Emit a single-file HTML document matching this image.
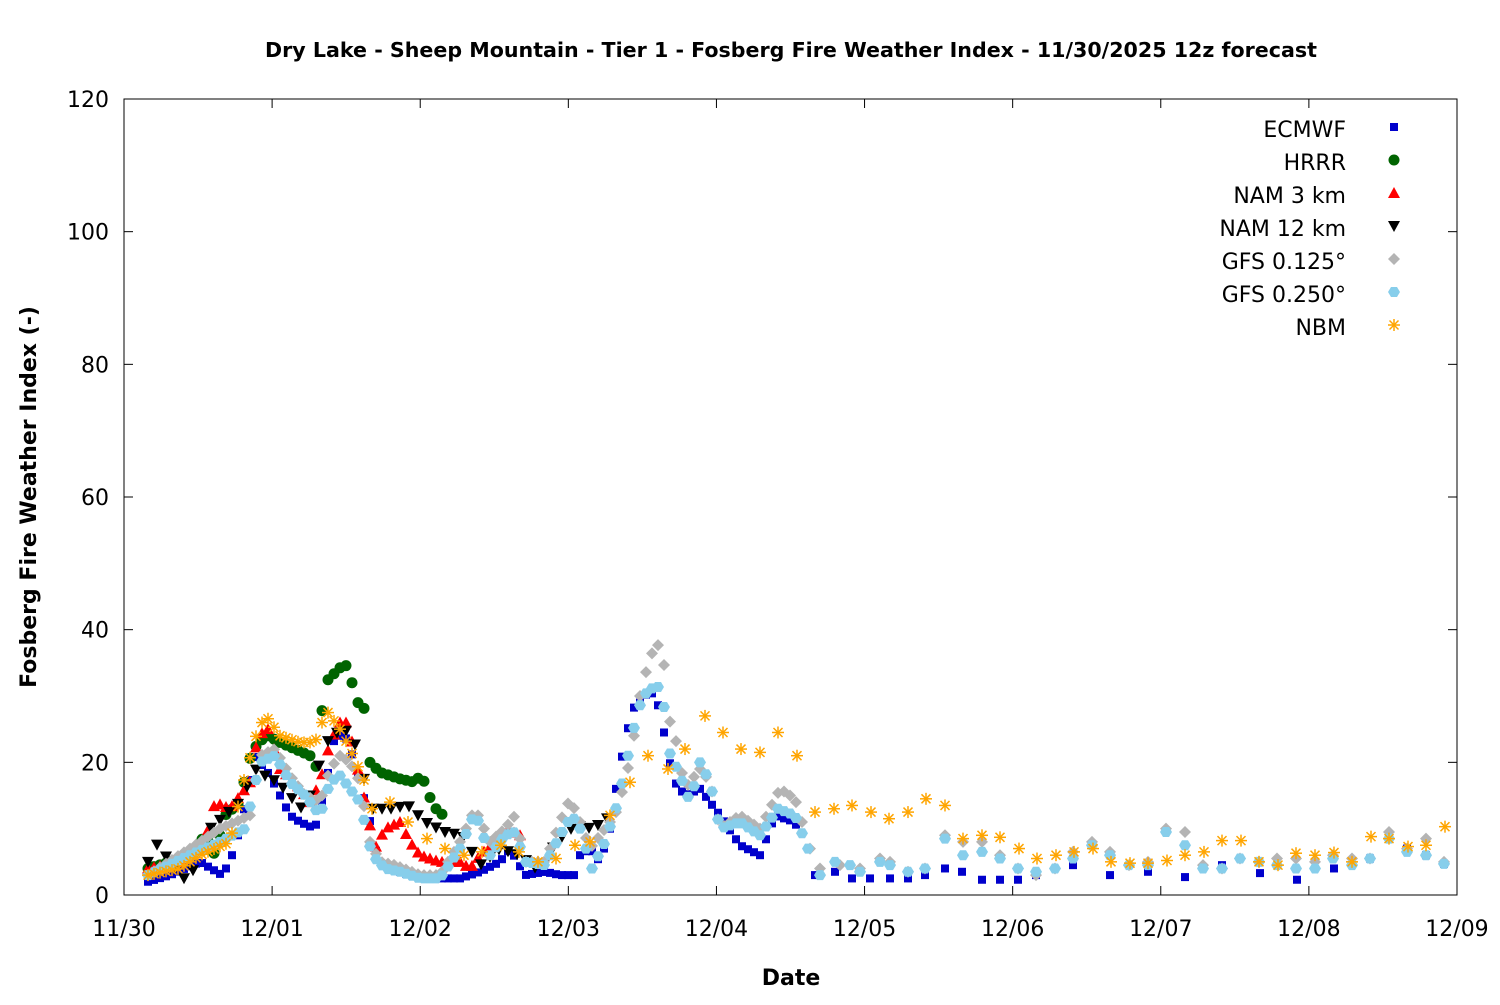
<!DOCTYPE html>
<html><head><meta charset="utf-8"><style>
html,body{margin:0;padding:0;background:#fff;}
svg text{font-family:"DejaVu Sans","Liberation Sans",sans-serif;}
</style></head><body>
<svg id="s" width="1500" height="1000" xmlns="http://www.w3.org/2000/svg">
<rect width="1500" height="1000" fill="#fff"/>
<text x="791" y="57" text-anchor="middle" font-size="20.6" font-weight="bold">Dry Lake - Sheep Mountain - Tier 1 - Fosberg Fire Weather Index - 11/30/2025 12z forecast</text>
<text x="791" y="985" text-anchor="middle" font-size="22" font-weight="bold">Date</text>
<text transform="translate(36,497) rotate(-90)" text-anchor="middle" font-size="22" font-weight="bold">Fosberg Fire Weather Index (-)</text>
<g id="ax"></g>
<g id="pts"></g>
<rect x="124" y="99" width="1333" height="796" fill="none" stroke="#000" stroke-width="1"/>
<g font-size="22" text-anchor="end">
<text x="1346" y="137">ECMWF</text>
<text x="1346" y="170">HRRR</text>
<text x="1346" y="203">NAM 3 km</text>
<text x="1346" y="236">NAM 12 km</text>
<text x="1346" y="269">GFS 0.125°</text>
<text x="1346" y="302">GFS 0.250°</text>
<text x="1346" y="335">NBM</text>
</g>
</svg>
<script>
const NS="http://www.w3.org/2000/svg";
const ax=document.getElementById('ax'),P=document.getElementById('pts');
function el(t,a,p){const e=document.createElementNS(NS,t);for(const k in a)e.setAttribute(k,a[k]);(p||P).appendChild(e);return e;}
const Y=v=>895-v*6.6333;
for(let i=0;i<=6;i++){const y=Y(i*20);
 el('line',{x1:124,x2:133,y1:y,y2:y,stroke:'#000'},ax);el('line',{x1:1448,x2:1457,y1:y,y2:y,stroke:'#000'},ax);
 const t=el('text',{x:109,y:y+8,'text-anchor':'end','font-size':22},ax);t.textContent=i*20;}
const d=['11/30','12/01','12/02','12/03','12/04','12/05','12/06','12/07','12/08','12/09'];
for(let i=0;i<10;i++){const x=124+i*148.11;
 el('line',{x1:x,x2:x,y1:895,y2:886,stroke:'#000'},ax);el('line',{x1:x,x2:x,y1:99,y2:108,stroke:'#000'},ax);
 const t=el('text',{x:x,y:936,'text-anchor':'middle','font-size':22},ax);t.textContent=d[i];}
function mk(type,x,y){
 switch(type){
 case 'sq':el('rect',{x:x-4,y:y-4,width:8,height:8,fill:'#0000cc'});break;
 case 'ci':el('circle',{cx:x,cy:y,r:5.5,fill:'#006400'});break;
 case 'tu':el('polygon',{points:`${x},${y-6} ${x-6},${y+5} ${x+6},${y+5}`,fill:'#ff0000'});break;
 case 'td':el('polygon',{points:`${x},${y+6} ${x-6},${y-5} ${x+6},${y-5}`,fill:'#000'});break;
 case 'di':el('polygon',{points:`${x},${y-6} ${x+6},${y} ${x},${y+6} ${x-6},${y}`,fill:'#b4b4b4'});break;
 case 'hx':el('polygon',{points:`${x-3},${y-5} ${x+3},${y-5} ${x+6},${y} ${x+3},${y+5} ${x-3},${y+5} ${x-6},${y}`,fill:'#87ceeb'});break;
 case 'as':{const g={stroke:'#ffa500','stroke-width':1.5};
  el('line',Object.assign({x1:x-6,x2:x+6,y1:y,y2:y},g));el('line',Object.assign({x1:x,x2:x,y1:y-6,y2:y+6},g));
  el('line',Object.assign({x1:x-4.5,x2:x+4.5,y1:y-4.5,y2:y+4.5},g));el('line',Object.assign({x1:x-4.5,x2:x+4.5,y1:y+4.5,y2:y-4.5},g));}break;}
}
function interp(k,x){for(let i=0;i<k.length-1;i++){if(x>=k[i][0]&&x<=k[i+1][0]){const f=(x-k[i][0])/(k[i+1][0]-k[i][0]||1);return k[i][1]+f*(k[i+1][1]-k[i][1]);}}return k[k.length-1][1];}
function series(type,k,step,dense){
 for(let x=k[0][0];x<=Math.min(dense,k[k.length-1][0]);x+=step)mk(type,x,Y(interp(k,x)));
 for(const p of k)if(p[0]>dense)mk(type,p[0],Y(p[1]));
}
const E=[[148,2],[170,3],[200,5],[222,3],[230,5],[240,10],[255,21],[270,18],[280,15],[290,12],[300,11],[315,10],[325,16],[335,24],[345,24],[355,20],[365,14],[372,10],[378,5],[390,4],[410,3],[430,2.5],[460,2.5],[480,3.5],[500,5],[510,7],[525,3],[545,3.5],[560,3],[575,3],[580,6],[590,7],[600,5],[610,10],[618,18],[625,23],[632,28],[640,29],[650,31],[660,28],[668,21],[675,17],[685,15],[700,16],[710,14],[720,12],[740,7.5],[760,6],[775,12],[795,11],[815,3],[835,3.5],[852,2.5],[870,2.5],[890,2.5],[908,2.5],[925,3],[945,4],[962,3.5],[982,2.3],[1000,2.3],[1018,2.3],[1036,3],[1073,4.5],[1110,3],[1148,3.5],[1185,2.7],[1222,4.5],[1260,3.3],[1297,2.3],[1334,4],[1370,5.5],[1389,8.5],[1407,7],[1426,6],[1444,4.7]];
const H=[[148,4],[170,5],[190,6],[205,9],[215,6],[225,12],[240,14],[248,20],[258,23],[268,24],[280,23],[295,22],[310,21],[315,18],[325,32],[335,33.5],[345,35],[352,32],[358,29],[365,28],[370,20],[380,18.5],[400,17.5],[415,17],[420,18],[427,16.5],[432,13.5],[440,12.5],[446,11.5]];
const N3=[[148,4],[180,5],[205,8],[215,14],[230,13],[240,15],[250,17],[258,24],[268,25],[280,19],[295,17],[310,14],[320,17],[330,23],[340,26],[348,26],[355,21],[365,14],[375,7],[385,10],[400,11],[410,8],[420,6],[440,5],[460,5],[470,4],[480,6],[495,8],[505,10],[520,9]];
const N12=[[148,5],[155,8],[175,4],[180,2],[195,4],[210,10],[225,12],[240,14],[255,19],[265,18],[278,17],[290,15],[300,13],[310,15],[320,20],[330,24],[345,25],[358,22],[370,13],[390,13],[408,13.5],[425,11],[445,9.5],[462,9],[480,4.5],[500,7],[520,6],[540,3.5],[556,8],[575,10.5],[593,10],[611,12]];
const G1=[[148,3],[190,7],[220,10],[250,12],[260,21],[275,22],[290,18],[305,15],[320,14],[330,19],[340,21],[350,20],[360,17],[370,8],[380,5],[395,4.5],[420,3],[440,3],[460,8],[475,13],[490,8],[505,10],[515,12],[525,5],[545,5],[560,11],[570,14.5],[580,11],[590,7],[605,10],[615,12],[625,17],[632,22],[640,30],[650,36],[662,38.5],[668,27],[675,24],[685,16],[700,19],[710,17],[720,10],[740,12],[760,10],[780,16],[795,14.5],[810,7],[820,4],[840,4.5],[860,4],[880,5.5],[890,5],[908,3.5],[925,4],[945,9],[963,8],[982,8],[1000,6],[1018,4],[1036,3],[1055,4],[1073,6.5],[1092,8],[1110,6.5],[1129,4.5],[1148,5],[1166,10],[1185,9.5],[1203,4.5],[1222,4],[1240,5.5],[1259,5],[1277,5.5],[1296,5.5],[1315,5],[1333,6],[1352,5.5],[1370,5.5],[1389,9.5],[1407,7],[1426,8.5],[1444,5]];
const G2=[[148,3],[190,6],[220,8],[245,10],[260,20],[275,21],[290,17],[305,15],[320,12],[330,17],[340,18],[350,16],[360,14],[372,6],[385,4],[400,3.5],[420,2.5],[440,2.5],[460,7],[475,12.5],[490,6],[505,9],[515,9.5],[525,5],[545,4.5],[560,9],[572,12],[580,10],[592,4],[605,8],[618,14],[628,21],[638,28],[648,31],[662,31.5],[668,22],[680,18],[690,14],[700,20],[710,17],[720,10],[740,11],[760,9],[778,13],[795,12],[808,7],[820,3],[835,5],[850,4.5],[860,3.5],[880,5],[890,4.5],[908,3.5],[925,4],[945,8.5],[963,6],[982,6.5],[1000,5.5],[1018,4],[1036,3.5],[1055,4],[1073,5.5],[1092,7.5],[1110,6],[1129,4.5],[1148,4.5],[1166,9.5],[1185,7.5],[1203,4],[1222,4],[1240,5.5],[1259,5],[1277,4.5],[1296,4],[1315,4],[1333,5.5],[1352,4.5],[1370,5.5],[1389,8.5],[1407,6.5],[1426,6],[1444,4.7]];
const NB=[[148,3],[180,4],[200,6],[230,8],[245,18],[258,25],[266,27],[280,24],[300,23],[315,23],[322,26],[328,27.5],[340,25],[350,22],[365,17],[372,13],[390,14],[408,11],[427,8.5],[445,7],[464,6],[482,6.5],[501,7.5],[519,6.5],[538,5],[556,5.5],[575,7.5],[590,8],[610,12],[630,17],[648,21],[668,19],[685,22],[705,27],[723,24.5],[741,22],[760,21.5],[778,24.5],[797,21],[815,12.5],[834,13],[852,13.5],[871,12.5],[889,11.5],[908,12.5],[926,14.5],[945,13.5],[963,8.5],[982,9],[1000,8.7],[1019,7],[1037,5.5],[1056,6],[1074,6.5],[1093,7],[1111,5],[1130,4.8],[1148,4.8],[1167,5.2],[1185,6],[1204,6.5],[1222,8.2],[1241,8.2],[1259,5],[1278,4.5],[1296,6.3],[1315,6],[1334,6.4],[1352,5],[1371,8.8],[1389,8.5],[1408,7.3],[1426,7.5],[1445,10.3]];
series('sq',E,6,800);
series('ci',H,6,9999);
series('tu',N3,6,9999);
series('td',N12,9,9999);
series('di',G1,6,805);
series('hx',G2,6,805);
series('as',NB,6,368);
mk('sq',1394,127);mk('ci',1394,160);mk('tu',1394,193);mk('td',1394,226);mk('di',1394,259);mk('hx',1394,292);mk('as',1394,325);
</script>
</body></html>
